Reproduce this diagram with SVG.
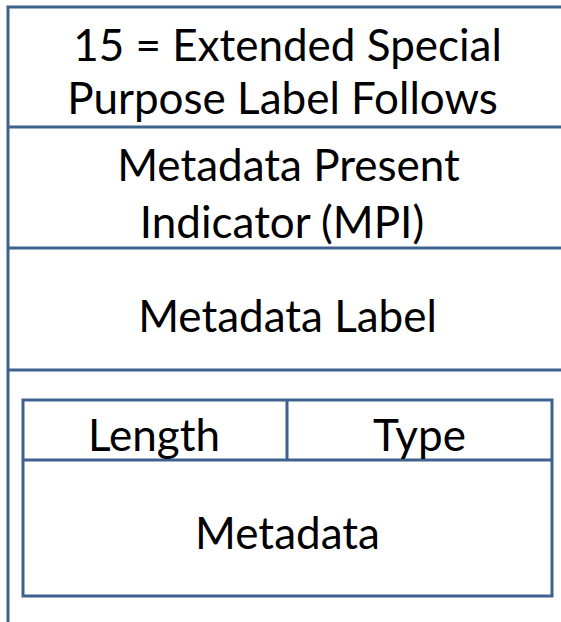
<svg xmlns="http://www.w3.org/2000/svg" width="561" height="622" viewBox="0 0 561 622">
<style>
.ln{stroke:#3e6190;stroke-width:3;fill:none}
.bx{stroke:#3e6190;stroke-width:3;fill:#ffffff}
.t{font-family:Lato,"Liberation Sans",sans-serif;font-size:44px;fill:#000000;text-anchor:middle}
</style>
<rect width="561" height="622" fill="#ffffff"/>
<g id="frame">
<path class="ln" d="M8,622 V7 H561"/>
<path class="ln" d="M8,127 H561 M8,248 H561 M8,370 H561"/>
</g>
<g id="esp">
<text class="t" x="287.5" y="61">15 = Extended Special</text>
<text class="t" x="282.5" y="114">Purpose Label Follows</text>
</g>
<g id="mpi">
<text class="t" x="288.5" y="181">Metadata Present</text>
<text class="t" x="282" y="238">Indicator (MPI)</text>
</g>
<g id="mlabel">
<text class="t" x="287.5" y="332">Metadata Label</text>
</g>
<g id="tlv">
<rect class="bx" x="23" y="400" width="529" height="196"/>
<path class="ln" d="M23,460 H552 M287,400 V460"/>
</g>
<g id="length"><text class="t" x="154" y="451">Length</text></g>
<g id="type"><text class="t" x="419.5" y="451">Type</text></g>
<g id="metadata"><text class="t" x="287.5" y="549">Metadata</text></g>
</svg>
